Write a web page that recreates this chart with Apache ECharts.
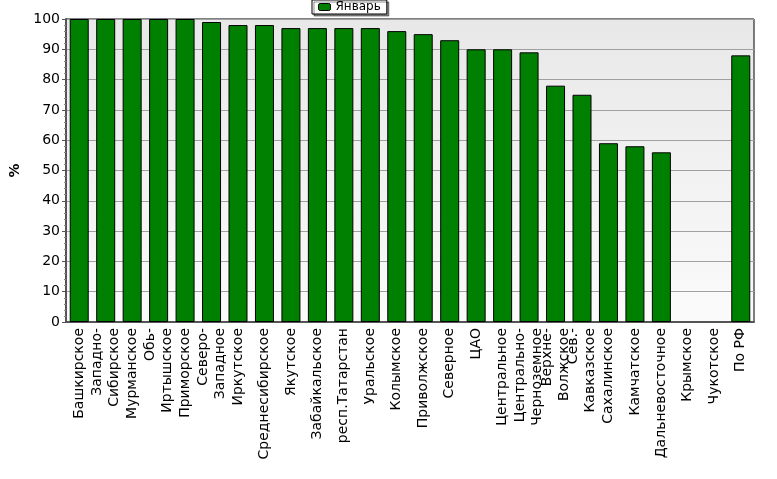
<!DOCTYPE html>
<html><head><meta charset="utf-8">
<script src="https://cdn.jsdelivr.net/npm/echarts@6/dist/echarts.min.js"></script>
<style>html,body{margin:0;padding:0;background:#fff}#c{width:777px;height:479px}</style>
</head><body><div id="c"></div>
<script>
const categories = ['Башкирское','Западно-\nСибирское','Мурманское','Обь-\nИртышское','Приморское','Северо-\nЗападное','Иркутское','Среднесибирское','Якутское','Забайкальское','респ.Татарстан','Уральское','Колымское','Приволжское','Северное','ЦАО','Центральное','Центрально-\nЧерноземное','Верхне-\nВолжское','Сев.-\nКавказское','Сахалинское','Камчатское','Дальневосточное','Крымское','Чукотское','По РФ'];
const seriesName = 'Январь';
const values = [100,100,100,100,100,99,98,98,97,97,97,97,96,95,93,90,90,89,78,75,59,58,56,0,0,88];
const yTicks = {min:0, max:100, interval:10};

const barData = values.map(v => v === 0 ? {value:v, itemStyle:{borderWidth:0}} : v);

const chart = echarts.init(document.getElementById('c'), null, {renderer:'canvas'});
chart.setOption({
  animation:false,
  textStyle:{fontFamily:'DejaVu Sans'},
  legend:{
    data:[seriesName], left:312, top:0, padding:[1,6,1,6], itemGap:0,
    itemWidth:12, itemHeight:7,
    backgroundColor:'#fff', borderColor:'#000', borderWidth:1,
    shadowColor:'rgba(0,0,0,0.45)', shadowOffsetX:2, shadowOffsetY:2, shadowBlur:0,
    textStyle:{fontSize:12, color:'#000', fontFamily:'DejaVu Sans'},
    itemStyle:{borderColor:'#000', borderWidth:1}
  },
  grid:{
    left:60, right:23, top:19, bottom:157, show:true,
    borderColor:'#000', borderWidth:1,
    backgroundColor:new echarts.graphic.LinearGradient(0,0,0,1,[{offset:0,color:'#e8e8e8'},{offset:1,color:'#fbfbfb'}])
  },
  xAxis:{
    type:'category', data:categories,
    axisLine:{lineStyle:{color:'#555', width:2}},
    axisTick:{alignWithLabel:true, interval:0, length:4, lineStyle:{color:'#888'}},
    axisLabel:{rotate:90, interval:0, fontSize:14, lineHeight:17, color:'#000', margin:6, fontFamily:'DejaVu Sans'}
  },
  yAxis:{
    type:'value', min:yTicks.min, max:yTicks.max, interval:yTicks.interval,
    name:'%', nameLocation:'middle', nameGap:44, nameRotate:90,
    nameTextStyle:{fontSize:14, fontWeight:'bold', color:'#000'},
    axisLine:{show:true, lineStyle:{color:'#555', width:2}},
    axisTick:{show:true, length:4, lineStyle:{color:'#555'}},
    minorTick:{show:true, splitNumber:5, length:2, lineStyle:{color:'#888'}},
    axisLabel:{fontSize:14, color:'#000', margin:6, fontFamily:'DejaVu Sans'},
    splitLine:{lineStyle:{color:'#a0a0a0', width:1}}
  },
  series:[{
    name:seriesName, type:'bar', data:barData, barWidth:19,
    itemStyle:{color:'#008000', borderColor:'#000', borderWidth:1}
  }]
});
</script></body></html>
